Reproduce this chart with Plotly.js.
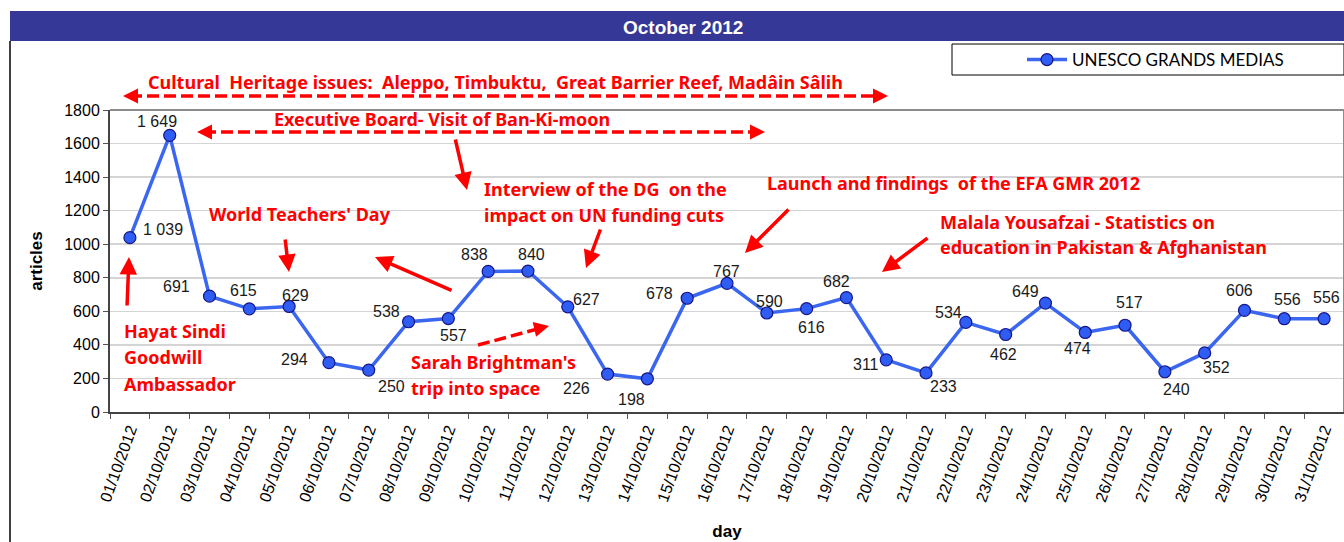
<!DOCTYPE html>
<html><head><meta charset="utf-8">
<script src="https://cdn.plot.ly/plotly-3.0.1.min.js"></script>
<style>html,body{margin:0;padding:0;background:#fff;} #chart{width:1344px;height:542px;}</style>
</head><body><div id="chart"></div>
<script>
const days = ["01/10/2012","02/10/2012","03/10/2012","04/10/2012","05/10/2012","06/10/2012","07/10/2012","08/10/2012","09/10/2012","10/10/2012","11/10/2012","12/10/2012","13/10/2012","14/10/2012","15/10/2012","16/10/2012","17/10/2012","18/10/2012","19/10/2012","20/10/2012","21/10/2012","22/10/2012","23/10/2012","24/10/2012","25/10/2012","26/10/2012","27/10/2012","28/10/2012","29/10/2012","30/10/2012","31/10/2012"];
const articles = [1039,1649,691,615,629,294,250,538,557,838,840,627,226,198,678,767,590,616,682,311,233,534,462,649,474,517,240,352,606,556,556];
const seriesName = "UNESCO GRANDS MEDIAS";
const chartTitle = "October 2012";
const yTicks = [0,200,400,600,800,1000,1200,1400,1600,1800];

// data-label placement offsets (screen px, relative to each point)
const labelDx = [33,-13,-33,-6,6,-34,23,-22,5,-14,4,19,-31,-16,-28,-1,3,5,-10,-20,17,-17,-2,-20,-8,4,12,12,-5,3,2];
const labelDy = [-8,-14,-10,-18,-11,-3,16,-10,17,-17,-17,-7,14,21,-5,-12,-12,19,-16,5,14,-10,20,-12,16,-23,18,15,-20,-19,-21];

const L=110, R=1344, T=110, B=412;
const px = x => (x-L)/(R-L);
const py = y => (B-y)/(B-T);
const RED = '#ff0000';
const redFont = {family:'"Noto Sans", "Open Sans", sans-serif', size:18, color:RED, weight:700};

function fmt(n){ return n>=1000 ? Math.floor(n/1000)+' '+String(n%1000).padStart(3,'0') : String(n); }

const annotations = [];
// data labels
articles.forEach((v,i)=>{
  annotations.push({x:days[i], y:v, xref:'x', yref:'y', text:fmt(v), showarrow:false,
    xshift:labelDx[i], yshift:-labelDy[i], font:{family:'Arial, "Liberation Sans", sans-serif', size:16, color:'#1a1a1a'}});
});
// title in header bar
annotations.push({xref:'paper', yref:'paper', x:px(683), y:py(28), xanchor:'center', yanchor:'middle', text:'<b>'+chartTitle+'</b>', showarrow:false,
  font:{family:'Arial, "Liberation Sans", sans-serif', size:19, color:'#ffffff'}});

// red text notes
function note(txt, x, y, anchor){
  annotations.push({xref:'paper', yref:'paper', x:px(x), y:py(y), text:'<b>'+txt+'</b>', showarrow:false,
    xanchor:anchor||'left', yanchor:'middle', font:redFont});
}
note('Cultural&nbsp; Heritage issues:&nbsp; Aleppo, Timbuktu,&nbsp; Great Barrier Reef, Madâin Sâlih', 495, 82, 'center');
note('Executive Board- Visit of Ban-Ki-moon', 442, 119, 'center');
note('Interview of the DG&nbsp; on the', 482, 189);
note('impact on UN funding cuts', 482, 215);
note('Launch and findings&nbsp; of the EFA GMR 2012', 765, 183);
note('Malala Yousafzai - Statistics on', 938, 222);
note('education in Pakistan &amp; Afghanistan', 938, 247);
note("World Teachers' Day", 207, 214);
note('Hayat Sindi', 122, 331);
note('Goodwill', 122, 357);
note('Ambassador', 122, 384);
note("Sarah Brightman's", 409, 362);
note('trip into space', 409, 388);

// arrows: tail -> head (screen px)
function arrow(tx,ty,hx,hy,w){
  annotations.push({xref:'paper', yref:'paper', x:px(hx), y:py(hy), ax:tx-hx, ay:ty-hy, axref:'pixel', ayref:'pixel',
    text:'', showarrow:true, arrowhead:2, arrowsize:1, arrowwidth:w||3.5, arrowcolor:RED});
}
arrow(455,138,467,190);
arrow(601,228,586,268);
arrow(790,208,745,253);
arrow(929,237,882,272);
arrow(285,238,289,272);
arrow(453,291,375,257);
arrow(127,307,129,257);
// dashed arrow heads
arrow(136,96,123,96,3); arrow(875,96,888,96,3);
arrow(210,132,197,132,3); arrow(752,132,765,132,3);
arrow(536,329,549,326,3);

const shapes = [
  // header bar
  {type:'rect', xref:'paper', yref:'paper', x0:px(10), x1:px(1344), y0:py(41), y1:py(11), fillcolor:'#363897', line:{width:0}, layer:'below'},
  // left border of frame
  {type:'line', xref:'paper', yref:'paper', x0:px(10), x1:px(10), y0:py(41), y1:py(542), line:{color:'#000', width:1.5}},
  // legend box
  {type:'rect', xref:'paper', yref:'paper', x0:px(952), x1:px(1344), y0:py(75), y1:py(44), line:{color:'#000', width:1}, fillcolor:'rgba(0,0,0,0)'},
  // plot top / right border
  {type:'line', xref:'paper', yref:'paper', x0:0, x1:1, y0:1, y1:1, line:{color:'#8c8c8c', width:2}},
  {type:'line', xref:'paper', yref:'paper', x0:1, x1:1, y0:0, y1:1, line:{color:'#8c8c8c', width:2}},
  // dashed arrow shafts
  {type:'line', xref:'paper', yref:'paper', x0:px(130), x1:px(880), y0:py(96), y1:py(96), line:{color:RED, width:3.5, dash:'12px,5px'}},
  {type:'line', xref:'paper', yref:'paper', x0:px(204), x1:px(757), y0:py(132), y1:py(132), line:{color:RED, width:3.5, dash:'12px,5px'}},
  {type:'line', xref:'paper', yref:'paper', x0:px(478), x1:px(541), y0:py(345), y1:py(328), line:{color:RED, width:3.5, dash:'12px,5px'}}
];

const trace = {
  x: days, y: articles, type:'scatter', mode:'lines+markers', name: seriesName,
  line:{color:'#3a66f0', width:3.5},
  marker:{size:12, color:'#2f5cf2', line:{color:'#16168a', width:1.2}},
  hoverinfo:'x+y'
};

const layout = {
  width:1344, height:542,
  margin:{l:110, r:0, t:110, b:130},
  paper_bgcolor:'#fff', plot_bgcolor:'#fff',
  showlegend:true,
  legend:{x:px(1022), y:py(42), xanchor:'left', yanchor:'top', bgcolor:'rgba(0,0,0,0)', borderwidth:0, itemwidth:40,
    font:{family:'Lato, "Open Sans", sans-serif', size:17, color:'#000'}},
  xaxis:{type:'category', range:[-0.5,30.5], tickangle:-70, tickson:'boundaries', ticks:'outside', ticklen:5, tickcolor:'#555',
    showline:true, linecolor:'#444', linewidth:2, showgrid:false, zeroline:false,
    tickfont:{family:'Arial, "Liberation Sans", sans-serif', size:16, color:'#000'},
    title:{text:'<b>day</b>', font:{family:'Arial, "Liberation Sans", sans-serif', size:17, color:'#000'}, standoff:22}},
  yaxis:{range:[0,1800], tickvals:yTicks, ticks:'outside', ticklen:5, tickcolor:'#555',
    showline:true, linecolor:'#444', linewidth:2, showgrid:true, gridcolor:'#d4d4d4', gridwidth:1.5, zeroline:false,
    tickfont:{family:'Arial, "Liberation Sans", sans-serif', size:16, color:'#000'},
    title:{text:'<b>articles</b>', font:{family:'Arial, "Liberation Sans", sans-serif', size:17, color:'#000'}, standoff:17}},
  annotations: annotations,
  shapes: shapes
};

Plotly.newPlot('chart', [trace], layout, {displayModeBar:false, staticPlot:true});
</script>
</body></html>
